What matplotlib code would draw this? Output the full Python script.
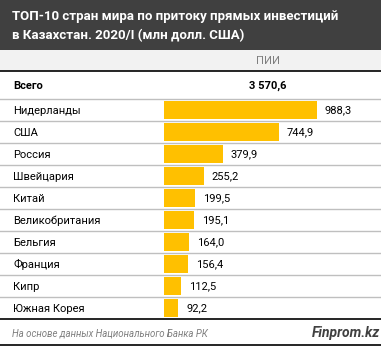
import matplotlib
matplotlib.use('Agg')
import matplotlib.pyplot as plt
from matplotlib.patches import Rectangle

countries = ['Нидерланды', 'США', 'Россия', 'Швейцария', 'Китай',
             'Великобритания', 'Бельгия', 'Франция', 'Кипр', 'Южная Корея']
values = [988.3, 744.9, 379.9, 255.2, 199.5, 195.1, 164.0, 156.4, 112.5, 92.2]
total = '3 570,6'
title = 'ТОП-10 стран мира по притоку прямых инвестиций\nв Казахстан. 2020/I (млн долл. США)'
header = 'ПИИ'
source = 'На основе данных Национального Банка РК'
brand = 'Finprom.kz'

W, H = 381, 346
plt.rcParams['font.family'] = ['Roboto', 'DejaVu Sans']
fig = plt.figure(figsize=(W/100, H/100), dpi=100)

# background layer in pixel coordinates
bg = fig.add_axes([0, 0, 1, 1])
bg.set_xlim(0, W)
bg.set_ylim(H, 0)
bg.axis('off')

bg.add_patch(Rectangle((0, 0), W, 50, color='#404040', lw=0))
bg.add_patch(Rectangle((0, 50), W, 21, color='#f2f2f2', lw=0))
bg.text(12, 26, title, color='white', fontsize=9.5, fontweight='bold',
        va='center', ha='left', linespacing=1.6)
bg.text(268, 61, header, color='#7f7f7f', fontsize=8, va='center', ha='center')
bg.plot([0, W], [71, 71], color='black', lw=1.2)
bg.text(13, 86, 'Всего', fontsize=8, fontweight='bold', va='center')
bg.text(268, 86, total, fontsize=8, fontweight='bold', va='center', ha='center')

row_top = 99
row_h = 22
for i in range(len(countries) + 1):
    y = row_top + i * row_h
    if i == len(countries):
        bg.plot([0, W], [y, y], color='black', lw=1.2)
    else:
        bg.plot([0, W], [y, y], color='#bfbfbf', lw=1)
for i, c in enumerate(countries):
    bg.text(13, row_top + i * row_h + 11.5, c, fontsize=8, va='center')

bg.text(12, 333, source, fontsize=6.9, style='italic', color='#7f7f7f', va='center')
bg.text(380, 333, brand, fontsize=10, style='italic', fontweight='bold',
        color='#404040', va='center', ha='right')
bg.plot([0, W], [345, 345], color='black', lw=1.2)

# bar layer
x0 = 164
px_per_unit = 153 / 988.3
ax = fig.add_axes([x0 / W, 1 - (row_top + row_h * len(countries)) / H,
                   (W - x0) / W, row_h * len(countries) / H])
ax.patch.set_alpha(0)
ax.axis('off')
ax.set_xlim(0, (W - x0) / px_per_unit)
ax.set_ylim(len(countries) - 0.5, -0.5)
ypos = list(range(len(countries)))
ax.barh(ypos, values, height=0.8, color='#ffc000', lw=0)
for y, v in zip(ypos, values):
    ax.text(v + 50, y + 0.03, f'{v:.1f}'.replace('.', ','), fontsize=8,
            va='center', ha='left')

fig.savefig('out.png', dpi=100)
